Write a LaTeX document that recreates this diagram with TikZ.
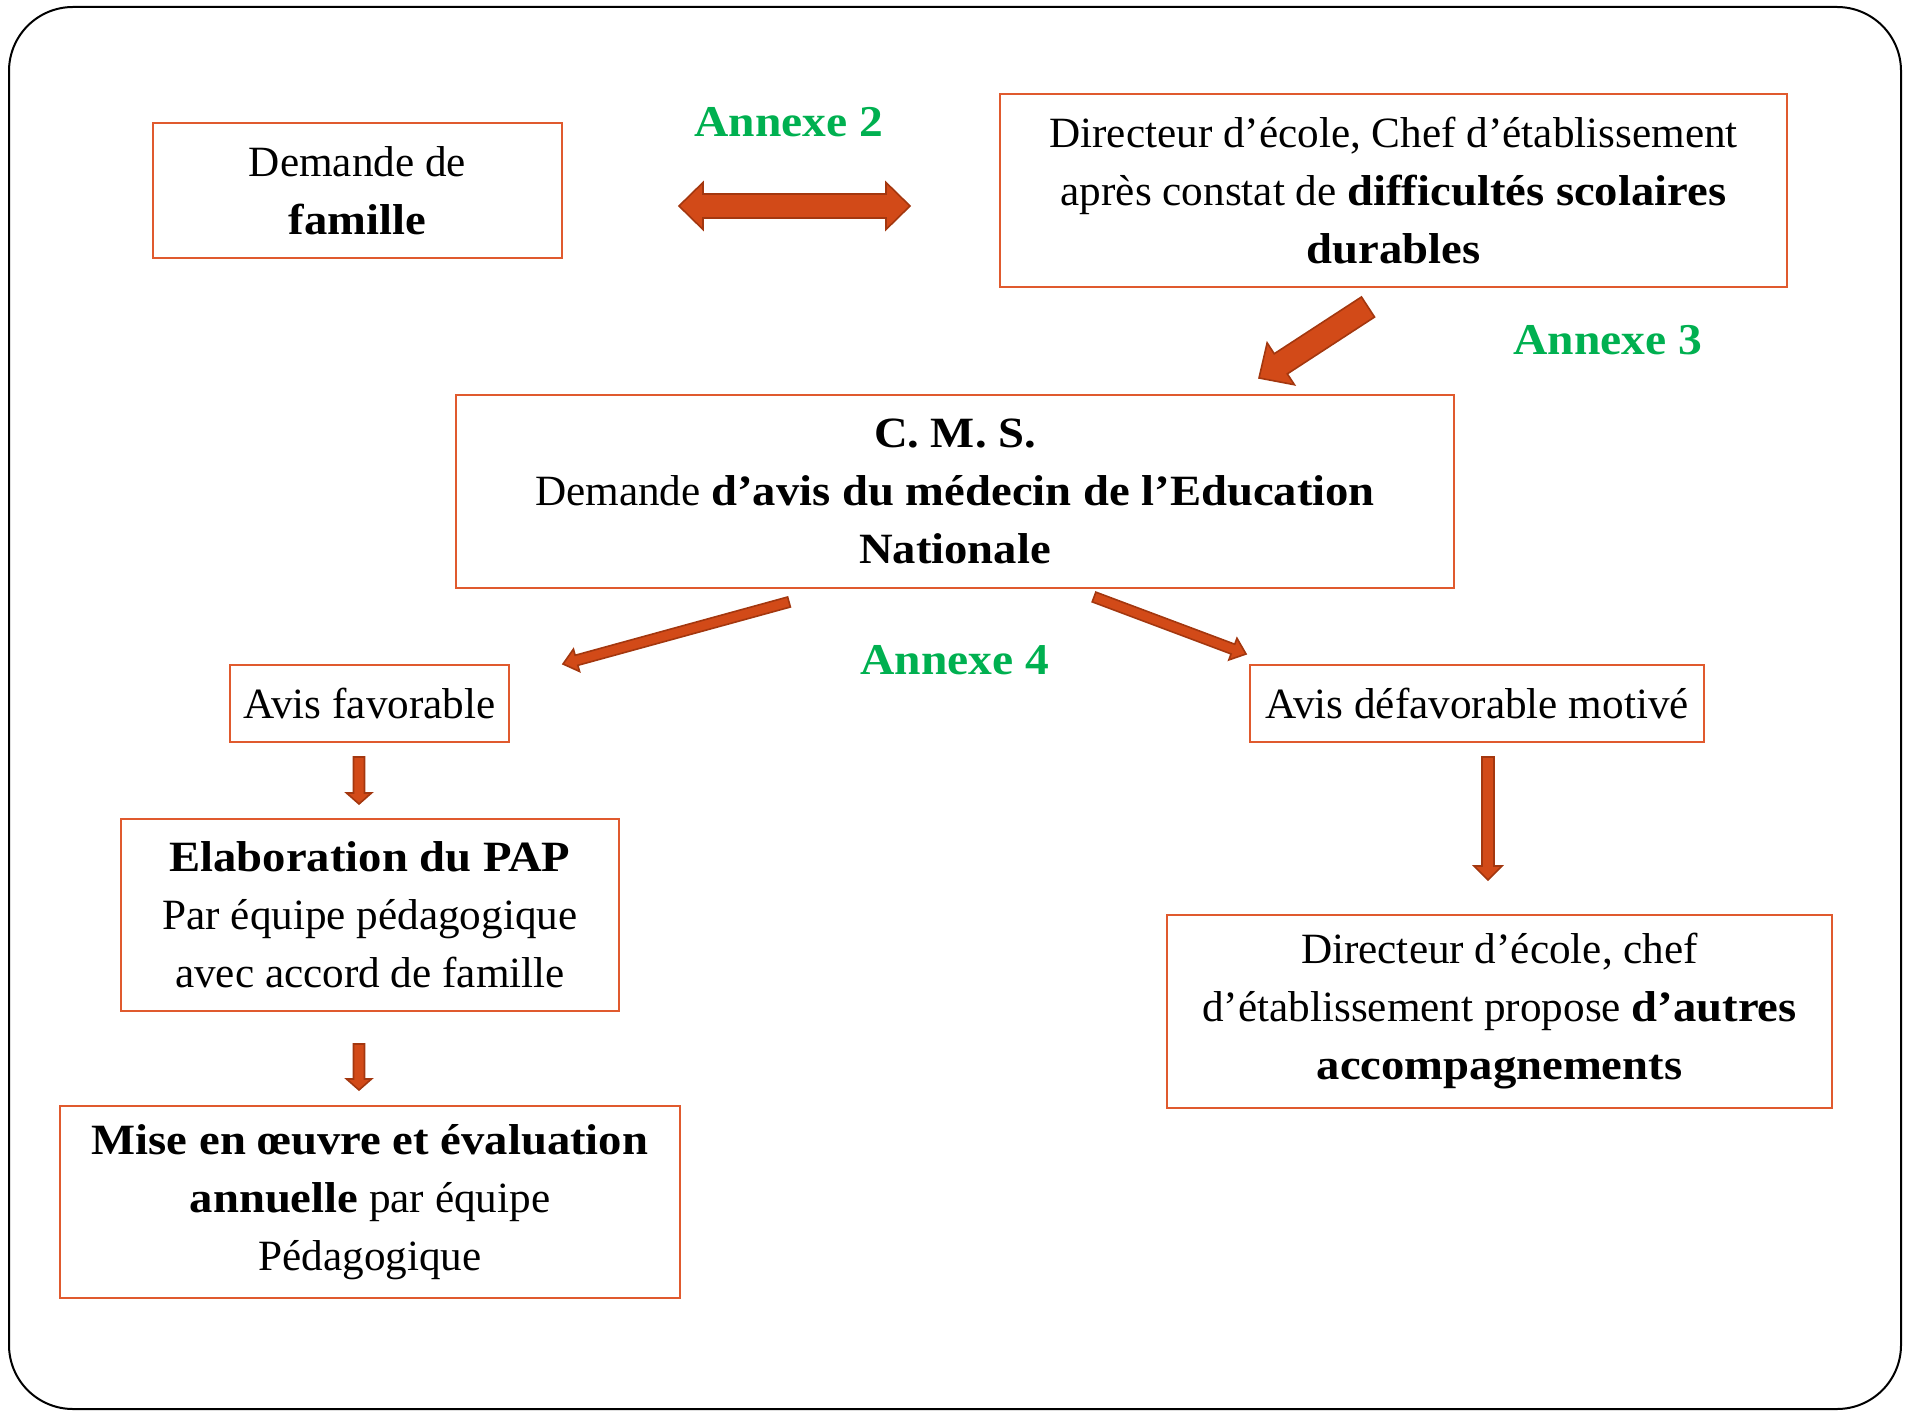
\documentclass[tikz,border=0pt]{standalone}
\usepackage{fontspec}
\setmainfont{Liberation Serif}[BoldFeatures={FakeStretch=1.08}]
\usetikzlibrary{calc,positioning}
\definecolor{boxline}{HTML}{E05A2E}
\definecolor{arrowfill}{HTML}{D24A18}
\definecolor{arrowedge}{HTML}{A3370F}
\definecolor{annexgreen}{HTML}{00B050}

\tikzset{
  stepbox/.style={draw=boxline, line width=1pt, inner sep=0pt, align=center,
    font=\fontsize{21.6}{29}\selectfont},
  blockarr/.style={fill=arrowfill, draw=arrowedge, line width=0.8pt, line join=miter},
  annexe/.style={text=annexgreen, font=\fontsize{22}{28}\selectfont\bfseries}
}

% block arrow: tail, tip, shaft half width, head half width, head length
\newcommand{\blockarrow}[5]{%
  \coordinate (ba-c) at ($(#2)!#5!(#1)$);
  \draw[blockarr] ($(#1)!#3!90:(#2)$) -- ($(ba-c)!#3!90:(#2)$) -- ($(ba-c)!#4!90:(#2)$)
    -- (#2) -- ($(ba-c)!#4!-90:(#2)$) -- ($(ba-c)!#3!-90:(#2)$) -- ($(#1)!#3!-90:(#2)$) -- cycle;
}
% double block arrow: tip, tip, shaft half width, head half width, head length
\newcommand{\twinarrow}[5]{%
  \coordinate (da-a) at ($(#1)!#5!(#2)$);
  \coordinate (da-b) at ($(#2)!#5!(#1)$);
  \draw[blockarr] (#1) -- ($(da-a)!#4!90:(#2)$) -- ($(da-a)!#3!90:(#2)$)
    -- ($(da-b)!#3!90:(#2)$) -- ($(da-b)!#4!90:(#2)$) -- (#2)
    -- ($(da-b)!#4!-90:(#2)$) -- ($(da-b)!#3!-90:(#2)$)
    -- ($(da-a)!#3!-90:(#2)$) -- ($(da-a)!#4!-90:(#2)$) -- cycle;
}

\begin{document}
\begin{tikzpicture}[x=0.5pt, y=-0.5pt]
  \useasboundingbox (0,0) rectangle (1910,1411);
  \draw[line width=1pt, rounded corners=32pt] (9,7) rectangle (1901,1409);

  % boxes
  \node[stepbox, minimum width=204.5pt, minimum height=67.5pt] (famille) at (357.5,190.5)
    {Demande de\\\textbf{famille}};
  \node[stepbox, minimum width=393.5pt, minimum height=96.5pt] (directeur) at (1393.5,190.5)
    {Directeur d’école, Chef d’établissement\\après constat de \textbf{difficultés scolaires}\\\textbf{durables}};
  \node[stepbox, minimum width=499pt, minimum height=96.5pt] (cms) at (955,491.5)
    {\textbf{C. M. S.}\\Demande \textbf{d’avis du médecin de l’Education}\\\textbf{Nationale}};
  \node[stepbox, minimum width=139.5pt, minimum height=38.5pt] (favorable) at (369.5,703.5)
    {Avis favorable};
  \node[stepbox, minimum width=227pt, minimum height=38.5pt] (defavorable) at (1477,703.5)
    {Avis défavorable motivé};
  \node[stepbox, minimum width=249pt, minimum height=96pt] (pap) at (370,915)
    {\textbf{Elaboration du PAP}\\Par équipe pédagogique\\avec accord de famille};
  \node[stepbox, minimum width=310pt, minimum height=96pt] (oeuvre) at (370,1202)
    {\textbf{Mise en œuvre et évaluation}\\\textbf{annuelle} par équipe\\Pédagogique};
  \node[stepbox, minimum width=332.5pt, minimum height=96.5pt] (autres) at (1499.5,1011.5)
    {Directeur d’école, chef\\d’établissement propose \textbf{d’autres}\\\textbf{accompagnements}};

  % annexes
  \node[annexe] (annexe2) at (789,122) {Annexe 2};
  \node[annexe] (annexe3) at (1608,340) {Annexe 3};
  \node[annexe] (annexe4) at (955,660) {Annexe 4};

  % arrow ends
  \coordinate (fam-r) at (679,206);
  \coordinate (dir-l) at (910,206);
  \coordinate (dir-s) at (1368,307);
  \coordinate (cms-n) at (1259,378);
  \coordinate (cms-sw) at (789,602);
  \coordinate (fav-ne) at (563,664);
  \coordinate (cms-se) at (1094,597);
  \coordinate (def-nw) at (1246,654);
  \coordinate (fav-s) at (359,757);
  \coordinate (pap-n) at (359,804);
  \coordinate (pap-s) at (359,1044);
  \coordinate (oeu-n) at (359,1090);
  \coordinate (def-s) at (1488,757);
  \coordinate (aut-n) at (1488,880);

  % arrows
  \twinarrow{fam-r}{dir-l}{6pt}{11.75pt}{12pt}
  \blockarrow{dir-s}{cms-n}{6pt}{12.5pt}{13pt}
  \blockarrow{cms-sw}{fav-ne}{2.6pt}{5.8pt}{7pt}
  \blockarrow{cms-se}{def-nw}{2.6pt}{5.8pt}{7pt}
  \blockarrow{fav-s}{pap-n}{2.75pt}{6.25pt}{5.5pt}
  \blockarrow{pap-s}{oeu-n}{2.75pt}{6.25pt}{5.5pt}
  \blockarrow{def-s}{aut-n}{3pt}{7pt}{7pt}
\end{tikzpicture}
\end{document}
